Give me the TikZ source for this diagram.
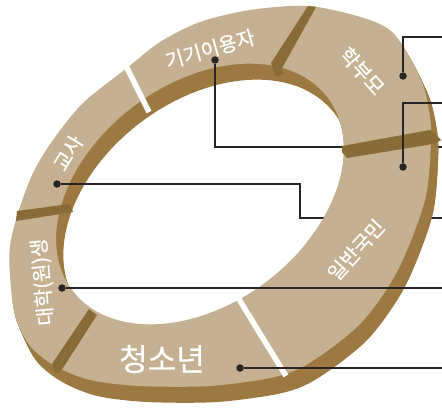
\documentclass[tikz,border=0pt]{standalone}
\usepackage{fontspec}
\newfontfamily\krfont[FakeBold=0.3]{Noto Sans CJK KR}
\usepackage{tikz}
\definecolor{ringface}{RGB}{197,177,145}
\definecolor{ringside}{RGB}{156,121,64}
\definecolor{ringwall}{RGB}{138,106,54}
\definecolor{leader}{RGB}{40,37,38}

% outline of the top face (outer edge, then the tilted elliptic hole)
\newcommand{\ringoutline}{%
  plot[smooth cycle] coordinates {(127,68) (160,42) (200,22) (250,10) (307,6)
    (360,17) (393,33) (420,77) (429,110) (431,140) (425,200) (398,270)
    (361,323) (311,362) (275,377) (210,386) (140,386) (90,380) (55,366)
    (30,346) (15,316) (10,275) (10,246) (18,213) (33,173) (53,140) (83,103)}
  plot[domain=0:360, samples=120, variable=\t]
    ({200+127.8*cos(\t)-66.2*sin(\t)}, {194-96.3*cos(\t)-87.9*sin(\t)})}

\newcommand{\drawring}{%
  % side walls
  \foreach \k in {1,...,16}{
    \fill[ringside, even odd rule, shift={(\k*0.45,\k)}] \ringoutline;
  }
  \fill[ringface, even odd rule] \ringoutline;
  % steps between the blocks
  \fill[ringwall] (308,6) -- (316,7) -- (281,70) -- (284,74) -- (276,77) -- (271,63) -- cycle;
  \fill[ringwall] (342,146) -- (430,130) -- (441,140) -- (433,144) -- (347,158) -- (342,152) -- cycle;
  \fill[ringwall] (89,309) -- (97,315) -- (61,371) -- (56,374) -- (52,364) -- cycle;
  \fill[ringwall] (17,211) -- (70,204) -- (73,212) -- (16,221) -- cycle;
  % open gaps
  \draw[white, line width=5.5pt] (126,66) -- (149,112);
  \draw[white, line width=5.5pt] (237,296) -- (286,376);
}

\begin{document}
\begin{tikzpicture}[x=1pt, y=-1pt,
  every node/.style={inner sep=0pt},
  lbl/.style={text=white, font=\krfont\fontsize{20}{21}\selectfont},
  dot/.style={circle, fill=leader, minimum size=7.5pt},
  leadline/.style={draw=leader, line width=1.1pt}]
\useasboundingbox (0,0) rectangle (442,412);
% ring, then the two leaders that pass behind its right half
\drawring
\node[dot] (dgigi) at (215,60) {};
\node[dot] (dgyo) at (57,184) {};
\coordinate (egigi) at (442,147);
\coordinate (kgyo) at (300,218);
\coordinate (egyo) at (442,218);
\draw[leadline] (dgigi) |- (egigi);
\draw[leadline] (dgyo) -| (kgyo) -- (egyo);
\begin{scope}
  \clip (305,0) rectangle (442,300);
  \drawring
\end{scope}
% block names
\node[lbl, rotate=16] (tgigi) at (210,49) {기기이용자};
\node[lbl, rotate=-48] (thak) at (362,71) {학부모};
\node[lbl, rotate=59] (tgyo) at (68,153) {교사};
\node[lbl, rotate=48] (til) at (356,250) {일반국민};
\node[lbl, rotate=95] (tdae) at (43,282) {대학(원)생};
\node[lbl, font=\krfont\fontsize{31}{32}\selectfont] (tcheong) at (162,359) {청소년};
% remaining leaders
\node[dot] (dhak) at (403,76) {};
\node[dot] (dil) at (403,167) {};
\node[dot] (ddae) at (62,288) {};
\node[dot] (dcheong) at (240,368) {};
\coordinate (ehak) at (442,37);
\coordinate (eil) at (442,103);
\coordinate (edae) at (442,288);
\coordinate (echeong) at (442,368);
\draw[leadline] (dhak) |- (ehak);
\draw[leadline] (dil) |- (eil);
\draw[leadline] (ddae) -- (edae);
\draw[leadline] (dcheong) -- (echeong);
\end{tikzpicture}
\end{document}
